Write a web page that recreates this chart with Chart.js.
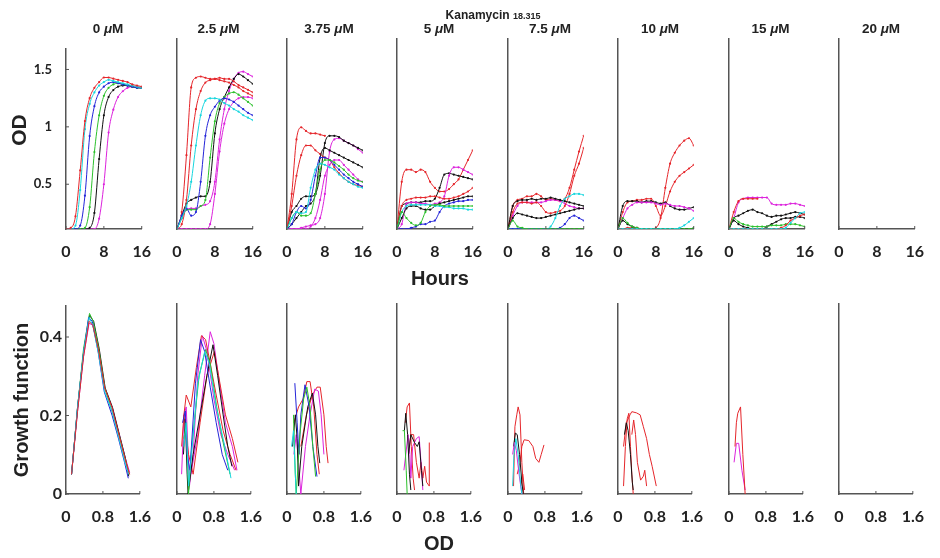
<!DOCTYPE html>
<html>
<head>
<meta charset="utf-8">
<script src="https://cdn.jsdelivr.net/npm/chart.js@4.4.0/dist/chart.umd.min.js"></script>
<style>
  body { margin: 0; background: #fff; width: 940px; height: 558px; position: relative; overflow: hidden;
         font-family: "Liberation Sans", Arial, sans-serif; }
  canvas { position: absolute; }
  .t { position: absolute; font-weight: bold; color: #222; white-space: nowrap; transform: translate(-50%, -50%); }
  .rot { transform: translate(-50%, -50%) rotate(-90deg); }
</style>
</head>
<body>
<script>
// ---- data ----
const doses = ['0', '2.5', '3.75', '5', '7.5', '10', '15', '20'];
const hours = [0, 1, 2, 3, 4, 5, 6, 7, 8, 9, 10, 11, 12, 13, 14, 15, 16];
const hourTicks = [0, 8, 16];
const odTicks = [0, 0.8, 1.6];

// OD vs hours, one value per hour
const od0Red     = [0.11,0.12,0.22,0.62,1.05,1.25,1.34,1.39,1.43,1.43,1.42,1.41,1.40,1.39,1.37,1.36,1.35];
const od0Cyan    = [0.11,0.11,0.14,0.45,0.98,1.20,1.30,1.36,1.39,1.41,1.40,1.39,1.38,1.37,1.36,1.35,1.34];
const od0Blue    = [0.11,0.11,0.11,0.14,0.40,0.92,1.18,1.30,1.35,1.38,1.39,1.38,1.37,1.36,1.35,1.34,1.34];
const od0Green   = [0.11,0.11,0.11,0.11,0.12,0.30,0.78,1.10,1.27,1.34,1.37,1.38,1.37,1.36,1.35,1.34,1.34];
const od0Black   = [0.11,0.11,0.11,0.11,0.11,0.12,0.25,0.72,1.10,1.26,1.32,1.35,1.36,1.36,1.35,1.34,1.34];
const od0Magenta = [0.11,0.11,0.11,0.11,0.11,0.11,0.11,0.20,0.50,0.95,1.15,1.26,1.31,1.34,1.35,1.35,1.34];

const od1Red      = [0.11,0.25,0.72,1.28,1.36,1.37,1.36,1.35,1.35,1.36,1.35,1.35,1.33,1.30,1.28,1.26,1.24];
const od1Red2     = [0.11,0.15,0.35,0.80,1.10,1.25,1.32,1.34,1.35,1.34,1.33,1.32,1.30,1.28,1.25,1.23,1.21];
const od1Cyan     = [0.11,0.20,0.30,0.50,0.80,1.05,1.17,1.19,1.19,1.18,1.15,1.13,1.10,1.08,1.05,1.03,1.01];
const od1Blue     = [0.11,0.22,0.28,0.22,0.25,0.50,0.88,1.05,1.12,1.17,1.19,1.18,1.16,1.13,1.10,1.07,1.05];
const od1Green    = [0.11,0.20,0.27,0.27,0.27,0.30,0.35,0.70,1.00,1.15,1.20,1.23,1.24,1.22,1.19,1.16,1.13];
const od1Black    = [0.11,0.22,0.32,0.35,0.37,0.38,0.38,0.50,0.90,1.10,1.20,1.28,1.35,1.39,1.37,1.34,1.31];
const od1Magenta  = [0.11,0.20,0.27,0.28,0.28,0.30,0.31,0.34,0.50,0.85,1.10,1.25,1.35,1.40,1.41,1.39,1.37];
const od1Magenta2 = [0.11,0.11,0.11,0.11,0.11,0.11,0.11,0.15,0.40,0.75,0.98,1.10,1.16,1.19,1.20,1.20,1.19];

const od2Red      = [0.11,0.40,0.85,0.95,0.92,0.90,0.90,0.89,0.88];
const od2Red2     = [0.11,0.30,0.55,0.72,0.80,0.80,0.76,0.73,0.70,0.68,0.62,0.57,0.53,0.50,0.48,0.47,0.46];
const od2Black    = [0.11,0.25,0.30,0.36,0.38,0.38,0.40,0.55,0.82,0.88,0.88,0.87,0.84,0.82,0.80,0.78,0.76];
const od2Black2   = [0.11,0.15,0.20,0.25,0.30,0.32,0.40,0.70,0.78,0.76,0.74,0.72,0.70,0.68,0.66,0.64,0.62];
const od2Magenta  = [0.11,0.11,0.11,0.12,0.13,0.14,0.15,0.20,0.40,0.75,0.85,0.86,0.84,0.82,0.80,0.77,0.74];
const od2Magenta2 = [0.11,0.11,0.11,0.11,0.11,0.13,0.20,0.35,0.55,0.64,0.68,0.68,0.64,0.60,0.56,0.52,0.50];
const od2Blue     = [0.11,0.15,0.25,0.30,0.28,0.35,0.55,0.70,0.70,0.68,0.64,0.60,0.56,0.53,0.50,0.48,0.46];
const od2Cyan     = [0.11,0.20,0.25,0.24,0.25,0.45,0.60,0.65,0.64,0.62,0.60,0.56,0.53,0.50,0.48,0.46,0.45];
const od2Green    = [0.11,0.20,0.25,0.22,0.22,0.24,0.40,0.60,0.68,0.68,0.66,0.63,0.60,0.56,0.53,0.51,0.50];

const od3Red      = [0.11,0.50,0.60,0.60,0.58,0.60,0.58,0.50,0.45,0.42,0.42,0.44,0.48,0.52,0.60,0.68,0.76];
const od3Red2     = [0.11,0.30,0.35,0.36,0.37,0.37,0.37,0.38,0.38,0.37,0.36,0.36,0.37,0.38,0.40,0.42,0.45];
const od3Black    = [0.11,0.30,0.32,0.33,0.33,0.33,0.34,0.34,0.36,0.45,0.56,0.57,0.56,0.55,0.54,0.53,0.52];
const od3Black2   = [0.11,0.20,0.28,0.30,0.30,0.28,0.27,0.27,0.30,0.32,0.33,0.34,0.35,0.36,0.37,0.38,0.38];
const od3Magenta  = [0.11,0.15,0.32,0.33,0.33,0.32,0.32,0.31,0.32,0.33,0.38,0.55,0.62,0.62,0.60,0.58,0.56];
const od3Blue     = [0.11,0.11,0.11,0.12,0.13,0.15,0.15,0.17,0.18,0.25,0.30,0.32,0.33,0.34,0.34,0.35,0.35];
const od3Cyan     = [0.11,0.25,0.30,0.31,0.31,0.31,0.31,0.31,0.30,0.30,0.29,0.29,0.28,0.28,0.28,0.27,0.27];
const od3Green    = [0.11,0.25,0.20,0.16,0.14,0.16,0.25,0.30,0.31,0.31,0.30,0.30,0.30,0.30,0.30,0.30,0.30];

const od4Red      = [0.11,0.30,0.35,0.36,0.38,0.38,0.40,0.38,0.35,0.36,0.35,0.34,0.36,0.45,0.60,0.75,0.88];
const od4Red2     = [0.11,0.25,0.32,0.33,0.33,0.32,0.33,0.30,0.25,0.24,0.25,0.26,0.30,0.40,0.55,0.65,0.78];
const od4Black    = [0.11,0.30,0.34,0.35,0.35,0.36,0.35,0.36,0.36,0.37,0.36,0.35,0.34,0.33,0.32,0.31,0.30];
const od4Black2   = [0.11,0.20,0.24,0.23,0.22,0.21,0.20,0.20,0.21,0.22,0.23,0.24,0.25,0.26,0.27,0.28,0.28];
const od4Magenta  = [0.11,0.22,0.30,0.33,0.33,0.33,0.33,0.33,0.34,0.35,0.35,0.34,0.32,0.30,0.29,0.28,0.28];
const od4Cyan     = [0.11,0.11,0.11,0.11,0.11,0.11,0.11,0.11,0.11,0.13,0.20,0.30,0.36,0.38,0.40,0.40,0.39];
const od4Blue     = [0.11,0.11,0.11,0.11,0.11,0.11,0.11,0.11,0.11,0.11,0.11,0.12,0.15,0.20,0.22,0.20,0.18];
const od4Green    = [0.11,0.18,0.13,0.12,0.11,0.11,0.11,0.11,0.11,0.11,0.11,0.11,0.11,0.11,0.11,0.11,0.11];

const od5Red      = [0.11,0.11,0.12,0.12,0.12,0.11,0.11,0.11,0.12,0.20,0.45,0.65,0.74,0.80,0.84,0.86,0.80];
const od5Red2     = [0.11,0.25,0.33,0.34,0.35,0.35,0.36,0.36,0.30,0.22,0.30,0.42,0.50,0.55,0.58,0.61,0.64];
const od5Black    = [0.11,0.30,0.34,0.34,0.34,0.33,0.34,0.34,0.33,0.32,0.33,0.30,0.28,0.27,0.27,0.28,0.29];
const od5Magenta  = [0.11,0.20,0.28,0.31,0.33,0.33,0.33,0.33,0.32,0.31,0.32,0.31,0.30,0.30,0.29,0.28,0.26];
const od5Green    = [0.11,0.20,0.16,0.13,0.12,0.11,0.11,0.11,0.11,0.11,0.11,0.11,0.11,0.11,0.11,0.11,0.12];
const od5Black2   = [0.11,0.18,0.15,0.13,0.12,0.11,0.11,0.11,0.11,0.11,0.11,0.11,0.11,0.11,0.11,0.11,0.11];
const od5Cyan     = [0.11,0.11,0.11,0.11,0.11,0.11,0.11,0.11,0.11,0.11,0.11,0.11,0.11,0.12,0.14,0.17,0.20];

const od6Red      = [0.11,0.25,0.34,0.36,0.36,0.36,0.36];
const od6Magenta  = [0.11,0.20,0.33,0.36,0.37,0.37,0.37,0.37,0.37,0.32,0.31,0.31,0.31,0.32,0.32,0.31,0.30];
const od6Black    = [0.11,0.20,0.22,0.24,0.26,0.27,0.25,0.24,0.22,0.21,0.22,0.22,0.23,0.24,0.25,0.24,0.23];
const od6Black2   = [0.11,0.18,0.15,0.13,0.12,0.11,0.11,0.11,0.13,0.15,0.17,0.19,0.20,0.20,0.21,0.21,0.20];
const od6Green    = [0.11,0.20,0.17,0.15,0.14,0.13,0.13,0.13,0.13,0.14,0.14,0.14,0.15,0.15,0.15,0.14,0.13];
const od6Cyan     = [0.11,0.11,0.11,0.11,0.11,0.11,0.11,0.11,0.11,0.11,0.11,0.11,0.12,0.16,0.20,0.24,0.25];
const od6Red2     = [0.11,0.11,0.11,0.11,0.11,0.11,0.11,0.11,0.11,0.11,0.11,0.12,0.14,0.18,0.20,0.22,0.23];

// growth function vs OD, [od, growth] pairs
const gf0Red     = [[0.12,0.05],[0.25,0.21],[0.38,0.35],[0.5,0.44],[0.58,0.43],[0.7,0.37],[0.84,0.27],[1.0,0.22],[1.15,0.15],[1.28,0.09],[1.38,0.05]];
const gf0Cyan    = [[0.12,0.05],[0.25,0.22],[0.38,0.36],[0.5,0.45],[0.58,0.43],[0.7,0.36],[0.84,0.26],[1.0,0.21],[1.15,0.14],[1.28,0.08],[1.36,0.05]];
const gf0Blue    = [[0.12,0.05],[0.25,0.22],[0.38,0.36],[0.49,0.45],[0.57,0.44],[0.7,0.36],[0.83,0.26],[1.0,0.2],[1.14,0.14],[1.27,0.08],[1.35,0.04]];
const gf0Green   = [[0.12,0.05],[0.25,0.22],[0.38,0.37],[0.51,0.46],[0.59,0.44],[0.71,0.37],[0.84,0.27],[1.0,0.21],[1.15,0.15],[1.28,0.09],[1.37,0.05]];
const gf0Black   = [[0.12,0.05],[0.25,0.22],[0.38,0.36],[0.51,0.455],[0.6,0.44],[0.72,0.37],[0.85,0.27],[1.01,0.22],[1.16,0.15],[1.29,0.09],[1.36,0.045]];
const gf0Magenta = [[0.12,0.05],[0.25,0.21],[0.38,0.35],[0.5,0.435],[0.58,0.43],[0.7,0.37],[0.84,0.27],[1.0,0.22],[1.16,0.15],[1.29,0.09],[1.38,0.055]];

const gf1Red      = [[0.1,0.12],[0.15,0.2],[0.2,0.25],[0.3,0.22],[0.42,0.32],[0.53,0.4],[0.62,0.39],[0.72,0.33],[0.85,0.25],[1.0,0.16],[1.15,0.1],[1.28,0.06]];
const gf1Red2     = [[0.15,0.2],[0.25,0.1],[0.35,0.05],[0.5,0.18],[0.65,0.3],[0.81,0.36],[0.9,0.3],[1.05,0.2],[1.2,0.14],[1.32,0.08]];
const gf1Cyan     = [[0.15,0.12],[0.2,0.18],[0.25,0.02],[0.3,0.08],[0.45,0.28],[0.6,0.36],[0.7,0.33],[0.85,0.22],[1.0,0.14],[1.17,0.04]];
const gf1Blue     = [[0.12,0.18],[0.18,0.21],[0.22,0.1],[0.28,0.06],[0.4,0.28],[0.51,0.39],[0.6,0.36],[0.72,0.27],[0.85,0.18],[0.98,0.1],[1.1,0.06]];
const gf1Green    = [[0.15,0.14],[0.2,0.18],[0.25,0.0],[0.32,0.12],[0.48,0.3],[0.62,0.365],[0.72,0.33],[0.86,0.22],[1.0,0.13],[1.15,0.05]];
const gf1Black    = [[0.14,0.1],[0.18,0.19],[0.22,0.05],[0.24,0.0],[0.35,0.1],[0.5,0.2],[0.65,0.3],[0.78,0.377],[0.88,0.3],[1.0,0.2],[1.1,0.12],[1.19,0.07]];
const gf1Magenta  = [[0.1,0.05],[0.15,0.2],[0.2,0.22],[0.27,0.02],[0.35,0.1],[0.45,0.3],[0.55,0.4],[0.65,0.36],[0.8,0.24],[0.95,0.15],[1.1,0.1],[1.25,0.06]];
const gf1Magenta2 = [[0.3,0.05],[0.45,0.15],[0.6,0.3],[0.72,0.41],[0.8,0.38],[0.92,0.28],[1.05,0.18],[1.2,0.12],[1.3,0.06]];

const gf2Red      = [[0.15,0.18],[0.25,0.22],[0.35,0.24],[0.43,0.284],[0.5,0.284],[0.58,0.22],[0.65,0.1],[0.7,0.05]];
const gf2Red2     = [[0.3,0.12],[0.42,0.2],[0.55,0.25],[0.65,0.27],[0.72,0.27],[0.8,0.2],[0.85,0.12],[0.89,0.078]];
const gf2Blue     = [[0.17,0.28],[0.22,0.18],[0.26,0.1],[0.3,0.2],[0.39,0.276],[0.48,0.22],[0.56,0.12],[0.65,0.044]];
const gf2Green    = [[0.14,0.2],[0.18,0.05],[0.2,0.0],[0.28,0.15],[0.36,0.24],[0.43,0.27],[0.5,0.22],[0.56,0.12],[0.62,0.044]];
const gf2Black    = [[0.12,0.12],[0.18,0.2],[0.22,0.14],[0.25,0.02],[0.32,0.12],[0.45,0.22],[0.55,0.255],[0.62,0.2],[0.67,0.12],[0.71,0.078]];
const gf2Magenta  = [[0.15,0.1],[0.2,0.15],[0.25,0.08],[0.3,0.0],[0.4,0.12],[0.5,0.2],[0.6,0.265],[0.68,0.26],[0.74,0.2],[0.8,0.1]];
const gf2Cyan     = [[0.1,0.12],[0.14,0.16],[0.18,0.05],[0.2,0.0]];

const gf3Red      = [[0.18,0.18],[0.22,0.22],[0.27,0.23],[0.31,0.12],[0.35,0.04],[0.38,0.01]];
const gf3Red2     = [[0.25,0.1],[0.3,0.15],[0.36,0.15],[0.42,0.08],[0.48,0.04],[0.52,0.08],[0.56,0.04],[0.6,0.07],[0.64,0.03],[0.7,0.02],[0.7,0.13]];
const gf3Black    = [[0.16,0.16],[0.19,0.204],[0.23,0.15],[0.27,0.05],[0.3,0.01]];
const gf3Green    = [[0.12,0.16],[0.16,0.16],[0.2,0.06],[0.22,0.0]];
const gf3Magenta  = [[0.15,0.06],[0.19,0.1],[0.24,0.15],[0.28,0.1],[0.3,0.04],[0.34,0.12],[0.42,0.14],[0.48,0.145],[0.52,0.08],[0.56,0.01]];
const gf3Black2   = [[0.25,0.1],[0.3,0.15],[0.38,0.13],[0.44,0.12],[0.48,0.132],[0.53,0.06],[0.56,0.02]];

const gf4Red      = [[0.12,0.02],[0.15,0.17],[0.19,0.2],[0.22,0.22],[0.26,0.2],[0.3,0.08],[0.34,0.0]];
const gf4Red2     = [[0.2,0.05],[0.26,0.08],[0.3,0.12],[0.35,0.137],[0.45,0.135],[0.54,0.12],[0.6,0.09],[0.67,0.08],[0.72,0.1],[0.78,0.124]];
const gf4Red3     = [[0.28,0.02],[0.32,0.05],[0.36,0.01]];
const gf4Black    = [[0.12,0.12],[0.16,0.154],[0.2,0.15],[0.25,0.1],[0.3,0.03],[0.33,0.0]];
const gf4Cyan     = [[0.1,0.02],[0.13,0.1],[0.17,0.14],[0.22,0.1],[0.27,0.03],[0.3,0.0]];
const gf4Magenta  = [[0.1,0.1],[0.14,0.13],[0.18,0.11],[0.24,0.05],[0.3,0.0]];

const gf5Red      = [[0.12,0.02],[0.16,0.12],[0.2,0.19],[0.235,0.204],[0.27,0.12],[0.3,0.05],[0.33,0.0]];
const gf5Red2     = [[0.12,0.12],[0.18,0.18],[0.26,0.2],[0.3,0.208],[0.4,0.205],[0.48,0.2],[0.55,0.17],[0.62,0.14],[0.68,0.1],[0.74,0.07],[0.83,0.02]];
const gf5Red3     = [[0.3,0.15],[0.34,0.187],[0.38,0.15],[0.42,0.08],[0.49,0.035],[0.55,0.045],[0.58,0.06],[0.62,0.02]];
const gf5Black    = [[0.14,0.15],[0.18,0.18],[0.22,0.16],[0.27,0.1],[0.31,0.03],[0.33,0.01]];

const gf6Red      = [[0.13,0.12],[0.16,0.18],[0.19,0.204],[0.25,0.22],[0.3,0.1],[0.35,0.0]];
const gf6Magenta  = [[0.11,0.08],[0.16,0.128],[0.21,0.128],[0.28,0.06],[0.35,0.01]];

// which curves go in which panel (colour key, values)
const topSeries = [
  [['r', od0Red], ['c', od0Cyan], ['b', od0Blue], ['g', od0Green], ['k', od0Black], ['m', od0Magenta]],
  [['c', od1Cyan], ['b', od1Blue], ['g', od1Green], ['m', od1Magenta2], ['r', od1Red2], ['r', od1Red], ['k', od1Black], ['m', od1Magenta]],
  [['c', od2Cyan], ['g', od2Green], ['b', od2Blue], ['m', od2Magenta2], ['k', od2Black2], ['r', od2Red2], ['r', od2Red], ['k', od2Black], ['m', od2Magenta]],
  [['g', od3Green], ['c', od3Cyan], ['b', od3Blue], ['k', od3Black2], ['r', od3Red2], ['m', od3Magenta], ['k', od3Black], ['r', od3Red]],
  [['g', od4Green], ['b', od4Blue], ['c', od4Cyan], ['k', od4Black2], ['k', od4Black], ['r', od4Red2], ['m', od4Magenta], ['r', od4Red]],
  [['c', od5Cyan], ['g', od5Green], ['k', od5Black2], ['m', od5Magenta], ['k', od5Black], ['r', od5Red2], ['r', od5Red]],
  [['c', od6Cyan], ['r', od6Red2], ['g', od6Green], ['k', od6Black2], ['k', od6Black], ['r', od6Red], ['m', od6Magenta]],
  []
];
const bottomSeries = [
  [['r', gf0Red], ['c', gf0Cyan], ['b', gf0Blue], ['g', gf0Green], ['k', gf0Black], ['m', gf0Magenta]],
  [['c', gf1Cyan], ['b', gf1Blue], ['g', gf1Green], ['k', gf1Black], ['r', gf1Red], ['r', gf1Red2], ['m', gf1Magenta], ['m', gf1Magenta2]],
  [['c', gf2Cyan], ['g', gf2Green], ['b', gf2Blue], ['k', gf2Black], ['m', gf2Magenta], ['r', gf2Red], ['r', gf2Red2]],
  [['g', gf3Green], ['k', gf3Black], ['k', gf3Black2], ['m', gf3Magenta], ['r', gf3Red], ['r', gf3Red2]],
  [['c', gf4Cyan], ['m', gf4Magenta], ['k', gf4Black], ['r', gf4Red], ['r', gf4Red2], ['r', gf4Red3]],
  [['k', gf5Black], ['r', gf5Red], ['r', gf5Red2], ['r', gf5Red3]],
  [['r', gf6Red], ['m', gf6Magenta]],
  []
];

// ---- styling / layout ----
const colors = { r: '#e5262b', c: '#18d6de', b: '#2424d8', g: '#2cc12c', k: '#111111', m: '#dc22dc' };
const panelLeft = [66, 176.5, 287, 397, 508, 618, 728.5, 839];
const axisColor = '#555';
const tickColor = '#222';

// small inward tick marks like the MATLAB axes (y marks only where labels are shown)
const inTicks = {
  id: 'inTicks',
  afterDraw(chart) {
    const { ctx, chartArea: a, scales: { x, y } } = chart;
    ctx.save();
    ctx.strokeStyle = axisColor;
    ctx.lineWidth = 1;
    ctx.beginPath();
    x.ticks.forEach(t => { const px = x.getPixelForValue(t.value); ctx.moveTo(px, a.bottom); ctx.lineTo(px, a.bottom - 3); });
    if (y.options.ticks.display) {
      y.ticks.forEach(t => { const py = y.getPixelForValue(t.value); ctx.moveTo(a.left, py); ctx.lineTo(a.left + 3, py); });
    }
    ctx.stroke();
    ctx.restore();
  }
};

function fmt(v) { return v === 0 ? '0' : (Number.isInteger(v) ? String(v) : v.toFixed(1)); }

function makePanel(i, row) {
  const cv = document.createElement('canvas');
  cv.width = 148; cv.height = 238;
  cv.style.left = (panelLeft[i] - 50) + 'px';
  cv.style.top = (row === 0 ? 27 : 292) + 'px';
  document.body.appendChild(cv);

  const top = row === 0;
  const series = top ? topSeries[i] : bottomSeries[i];
  const datasets = series.map(([c, vals]) => ({
    data: top ? vals.map((v, j) => ({ x: hours[j], y: v })) : vals.map(p => ({ x: p[0], y: p[1] })),
    borderColor: colors[c],
    backgroundColor: colors[c],
    borderWidth: 1,
    pointRadius: top ? 1.1 : 0,
    pointBorderWidth: 0,
    showLine: true,
    cubicInterpolationMode: top ? 'monotone' : 'default',
    tension: 0
  }));

  const xt = top ? hourTicks : odTicks;
  new Chart(cv, {
    type: 'scatter',
    data: { datasets },
    options: {
      responsive: false,
      animation: false,
      events: [],
      layout: { padding: { top: 12, right: 14, left: 0, bottom: 0 } },
      plugins: { legend: { display: false }, tooltip: { enabled: false } },
      scales: {
        x: {
          type: 'linear', min: xt[0], max: xt[2],
          grid: { display: false, drawTicks: false },
          border: { color: axisColor, width: 1.5 },
          ticks: { stepSize: xt[1], padding: 13, color: tickColor, maxRotation: 0,
                   font: { family: 'Lato', weight: 'bold', size: 16 }, callback: v => fmt(v) },
          afterFit: s => { s.height = 36; }
        },
        y: {
          type: 'linear',
          min: top ? 0.11 : 0,
          max: top ? 1.68 : 0.48,
          grid: { display: false, drawTicks: false },
          border: { color: axisColor, width: 1.5 },
          ticks: { display: i === 0, stepSize: top ? 0.5 : 0.2, includeBounds: false,
                   padding: top ? 14 : 4, color: tickColor,
                   font: { family: 'Lato', weight: 'bold', size: top ? 13 : 16 }, callback: v => fmt(v) },
          afterFit: s => { s.width = 50; }
        }
      }
    },
    plugins: [inTicks]
  });
}

function label(html, x, y, size, rotate) {
  const d = document.createElement('div');
  d.className = 't' + (rotate ? ' rot' : '');
  d.style.left = x + 'px';
  d.style.top = y + 'px';
  d.style.fontSize = size + 'px';
  d.innerHTML = html;
  document.body.appendChild(d);
}

doses.forEach((d, i) => {
  makePanel(i, 0);
  makePanel(i, 1);
  label(d + ' <i>μ</i>M', panelLeft[i] + 42, 28, 13.5);
});

label('Kanamycin <span style="font-size:9px">18.315</span>', 493, 15, 12);
label('Hours', 440, 278, 20);
label('OD', 439, 543, 20);
label('OD', 19, 130, 21, true);
label('Growth function', 21, 400, 20, true);
</script>
</body>
</html>
